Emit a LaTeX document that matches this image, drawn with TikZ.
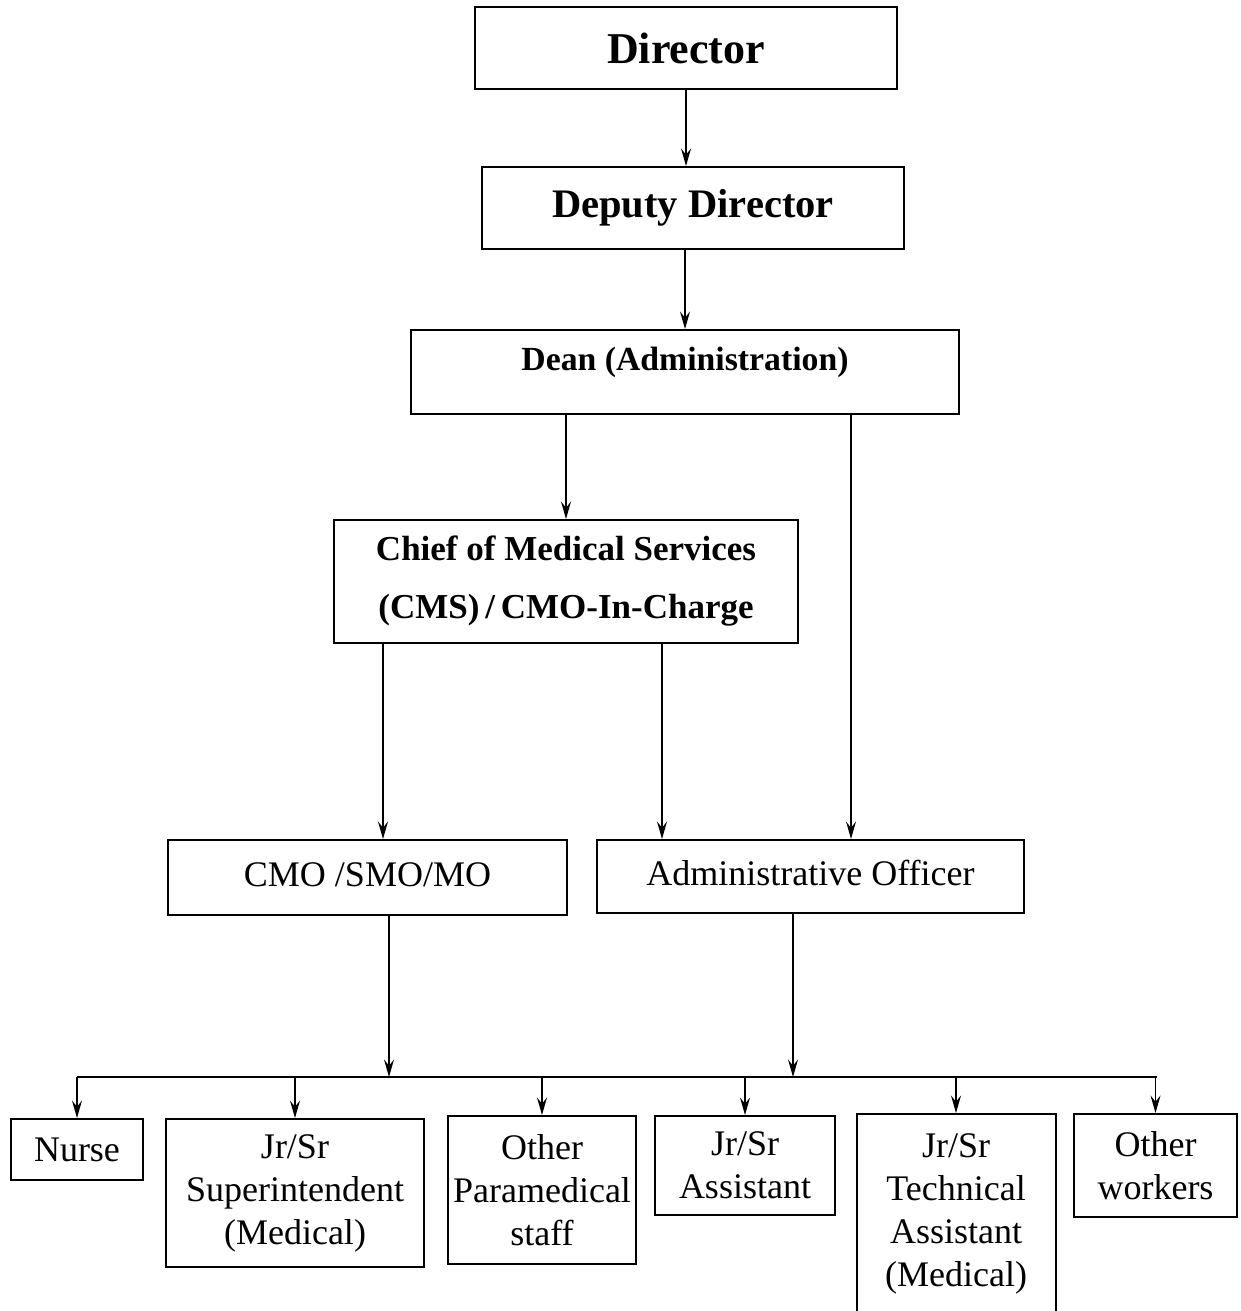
\documentclass[tikz,border=0pt]{standalone}
\usepackage{fontspec}
\setmainfont{Liberation Serif}
\usetikzlibrary{arrows.meta}

\begin{document}
\begin{tikzpicture}[x=0.4pt,y=-0.4pt,
    box/.style={draw,line width=0.8pt,inner sep=2pt,align=center,
      font=\fontsize{14.4}{17.2}\selectfont},
    arr/.style={-{Stealth[length=7pt,width=4pt,inset=2.5pt]},line width=0.45pt},
    >=Stealth]
  \useasboundingbox (0,0) rectangle (1240,1311);

  % upper part
  \node[box,minimum width=168.8pt,minimum height=32.8pt,
    font=\bfseries\fontsize{17.6}{20}\selectfont] (dir) at (686,48) {Director};
  \node[box,minimum width=168.8pt,minimum height=32.8pt,
    font=\bfseries\fontsize{16.2}{18}\selectfont] (dep) at (693,208) {Deputy Director};
  \node[box,minimum width=219.2pt,inner ysep=0pt,text height=16.4pt,text depth=17.2pt,
    font=\bfseries\fontsize{13.5}{15}\selectfont] (dean) at (685,372) {Dean (Administration)};
  \node[box,minimum width=185.6pt,minimum height=49.2pt,
    font=\bfseries\fontsize{14}{23.2}\selectfont] (chief) at (566,581.5)
    {Chief of Medical Services\\(CMS)\,/\,CMO-In-Charge};

  \draw[arr](dir.south) -- (dir.south |- dep.north);
  \draw[arr](dep.south -| dean.north) -- (dean.north);
  \draw[arr](dean.south -| chief.north) -- (chief.north);

  % middle level
  \node[box,minimum width=159.6pt,inner ysep=0pt,text height=18.4pt,text depth=11.6pt]
    (cmo) at (367.5,877.5) {CMO /SMO/MO};
  \node[box,minimum width=170.8pt,inner ysep=0pt,text height=18pt,text depth=11.2pt]
    (admo) at (810.5,876.5) {Administrative Officer};

  \draw[arr](chief.south -| 383,0) -- (cmo.north -| 383,0);
  \draw[arr](chief.south -| 662,0) -- (admo.north -| 662,0);
  \draw[arr](dean.south -| 851,0) -- (admo.north -| 851,0);

  % staff
  \node[box,minimum width=52.8pt,minimum height=24.4pt] (nurse) at (77,1149.5) {Nurse};
  \node[box,minimum width=103.2pt,minimum height=59.2pt] (supt) at (295,1193)
    {Jr/Sr\\Superintendent\\(Medical)};
  \node[box,minimum width=75.2pt,minimum height=59.2pt] (para) at (542,1190)
    {Other\\Paramedical\\staff};
  \node[box,minimum width=72pt,minimum height=39.6pt] (asst) at (745,1165.5) {Jr/Sr\\Assistant};
  \node[box,minimum width=79.6pt,minimum height=80pt] (tech) at (956,1214)
    {Jr/Sr\\Technical\\Assistant\\(Medical)};
  \node[box,minimum width=65.2pt,minimum height=41.2pt] (wrk) at (1155.5,1165.5) {Other\\workers};

  \coordinate (busL) at (77,1077);
  \coordinate (busR) at (1157,1077);
  \draw[line width=0.7pt](busL) -- (busR);
  \draw[arr](cmo.south -| 389,0) -- (busL -| 389,0);
  \draw[arr](admo.south -| 793,0) -- (busL -| 793,0);
  \foreach \b in {nurse,supt,para,asst,tech,wrk}
    \draw[arr](busL -| \b.north) -- (\b.north);
\end{tikzpicture}
\end{document}
